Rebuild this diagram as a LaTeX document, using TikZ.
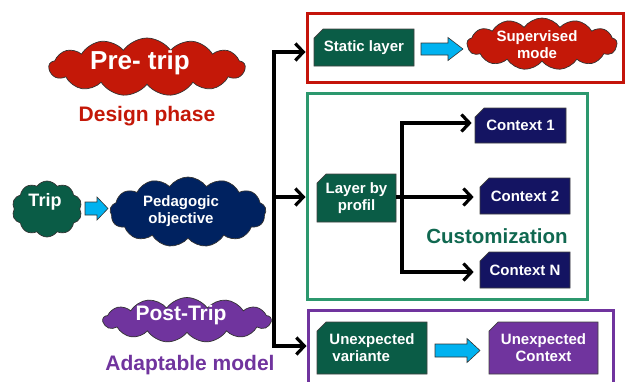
\documentclass[tikz,border=0pt]{standalone}
\usepackage{fontspec}
\setmainfont{Liberation Sans}
\usetikzlibrary{shapes.symbols,shapes.misc,arrows.meta}

\definecolor{redc}{RGB}{196,24,8}
\definecolor{redframe}{RGB}{196,20,10}
\definecolor{dgreen}{RGB}{10,92,70}
\definecolor{gframe}{RGB}{44,152,110}
\definecolor{gtext}{RGB}{16,104,80}
\definecolor{navy}{RGB}{20,20,98}
\definecolor{navycloud}{RGB}{0,34,96}
\definecolor{purp}{RGB}{112,52,158}
\definecolor{cyanarrow}{RGB}{0,178,240}

\tikzset{
  x=1pt, y=-1pt,
  txt/.style={font=\fontsize{15}{17}\selectfont\bfseries, text=white, align=center},
  puff/.style={cloud, cloud puffs=13, cloud puff arc=110, cloud ignores aspect,
    draw=black!80, line width=0.7pt, inner sep=0pt},
  tag/.style={chamfered rectangle, chamfered rectangle corners=north west,
    chamfered rectangle xsep=5pt, chamfered rectangle ysep=4pt,
    draw=black!75, line width=0.7pt, inner sep=0pt, txt},
  frame/.style={draw, line width=3pt, inner sep=0pt, fill=none},
  flow/.style={line width=3.2pt, -{Straight Barb[length=8pt,width=17pt,line width=3.2pt]}},
  bar/.style={line width=3.2pt},
  blockarrow/.style={fill=cyanarrow, draw=black!80, line width=0.6pt, line join=miter}
}

% block arrow: tail x, tip x, centre y, body half height, head half height, head length
\newcommand\blockarr[6]{%
  \filldraw[blockarrow] (#1,#3-#4) -- (#2-#6,#3-#4) -- (#2-#6,#3-#5) -- (#2,#3)
    -- (#2-#6,#3+#5) -- (#2-#6,#3+#4) -- (#1,#3+#4) -- cycle;}

\begin{document}
\begin{tikzpicture}
\useasboundingbox (0,0) rectangle (626,381);

% left side: the three phases
\node[puff, fill=redc, minimum width=196, minimum height=58] (pre) at (147,67) {};
\node[font=\fontsize{26}{28}\selectfont\bfseries, text=white] (pretxt) at (140,63) {Pre- trip};
\node[font=\fontsize{21}{23}\selectfont\bfseries, text=redc] (design) at (147,116) {Design phase};

\node[puff, cloud puffs=10, fill=dgreen, minimum width=70, minimum height=56] (trip) at (47,209) {};
\node[font=\fontsize{18}{20}\selectfont\bfseries, text=white] (triptxt) at (45,202) {Trip};
\node[puff, fill=navycloud, minimum width=156, minimum height=70] (peda) at (188,212) {};
\node[txt] (pedatxt) at (181,211) {Pedagogic\\objective};
\blockarr{85}{108}{208.5}{6.5}{11.5}{11}

\node[puff, fill=purp, minimum width=168, minimum height=45] (post) at (187,320) {};
\node[font=\fontsize{21}{23}\selectfont\bfseries, text=white] (posttxt) at (181,315) {Post-Trip};
\node[font=\fontsize{21}{23}\selectfont\bfseries, text=purp] (adapt) at (190,365) {Adaptable model};

% right side: frames
\node[frame, draw=redframe, minimum width=316, minimum height=69] (fpre) at (465,47.5) {};
\node[frame, draw=gframe, minimum width=280, minimum height=206] (ftrip) at (447,196) {};
\node[frame, draw=purp, minimum width=305, minimum height=74] (fpost) at (460.5,347) {};

% pre-trip content
\node[tag, fill=dgreen, minimum width=100, minimum height=37] (static) at (364,47.5) {Static layer};
\blockarr{421}{463}{49}{6}{11.5}{15}
\node[puff, fill=redc, minimum width=150, minimum height=52] (sup) at (542,44) {};
\node[txt] (suptxt) at (537,45) {Supervised\\mode};

% trip content
\node[tag, fill=dgreen, minimum width=79, minimum height=48] (lbp) at (356.5,198) {Layer by\\profil};
\node[tag, fill=navy, minimum width=91, minimum height=35] (c1) at (520.5,125.5) {Context 1};
\node[tag, fill=navy, minimum width=90, minimum height=36] (c2) at (525,196) {Context 2};
\node[tag, fill=navy, minimum width=90, minimum height=36] (cN) at (525,270) {Context N};
\node[font=\fontsize{20.5}{22}\selectfont\bfseries, text=gtext] (custom) at (497,236) {Customization};

% post-trip content
\node[tag, fill=dgreen, minimum width=110, minimum height=52, align=left] (uvar) at (372,348) {Unexpected\\\hspace*{3pt}variante};
\blockarr{435}{480}{350.5}{6.5}{12}{13}
\node[tag, fill=purp, minimum width=109, minimum height=52] (uctx) at (543.5,348) {Unexpected\\Context};

% main bracket
\coordinate (ttop) at (274,52);
\coordinate (tmid) at (274,197);
\coordinate (tbot) at (274,346);
\draw[bar, line cap=butt] (274,50.4) -- (274,347.6);
\draw[flow] (ttop) -- (ttop -| fpre.west);
\draw[flow] (tmid) -- (tmid -| ftrip.west);
\draw[flow] (tbot) -- (tbot -| fpost.west);

% branch towards the contexts
\coordinate (bx) at (402,197);
\draw[bar] (lbp.east |- bx) -- (bx);
\draw[flow, shorten >=6pt] (bx) -- (c2.west |- bx);
\draw[flow, shorten >=3pt] (bx) |- (c1.west |- 402,123);
\draw[flow, shorten >=6pt] (bx) |- (cN.west |- 402,272);
\end{tikzpicture}
\end{document}
